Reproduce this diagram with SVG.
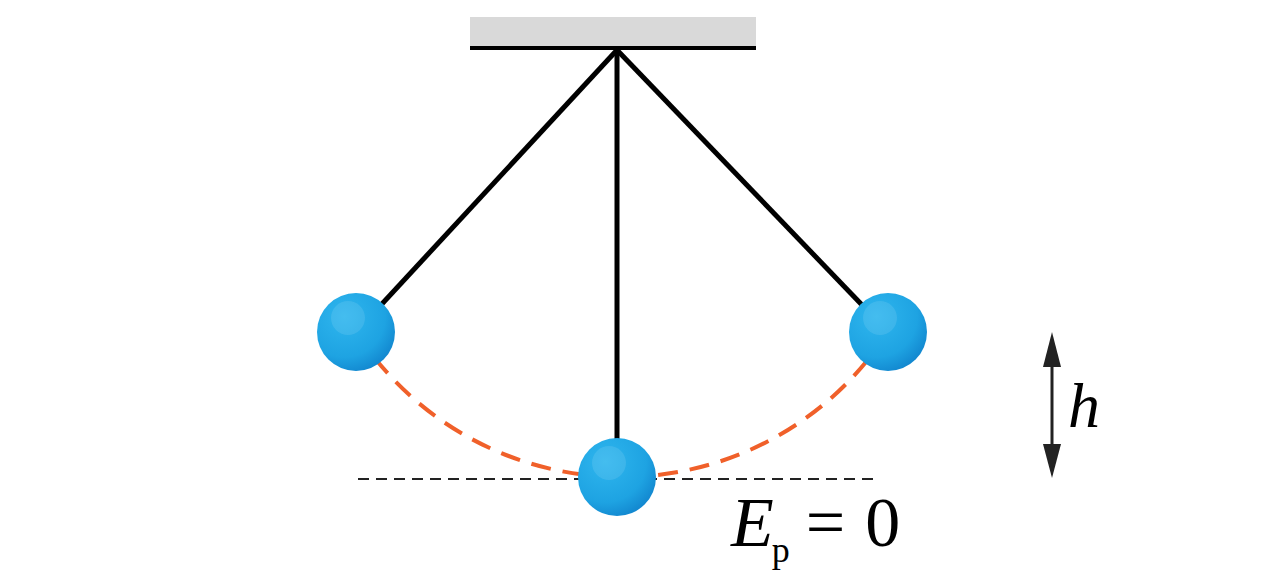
<svg xmlns="http://www.w3.org/2000/svg" width="1280" height="579" viewBox="0 0 1280 579">
<defs>
<radialGradient id="ball" cx="0.35" cy="0.3" r="0.75">
<stop offset="0" stop-color="#2fb6ee"/><stop offset="0.7" stop-color="#1ea3e2"/><stop offset="1" stop-color="#1287cf"/>
</radialGradient>
<style>.rod{stroke:#000;stroke-width:5}.tx{font-family:"Liberation Serif",serif;fill:#000}</style>
</defs>
<rect width="1280" height="579" fill="#fff"/>
<g id="ceiling"><rect x="470" y="17" width="286" height="30" fill="#d9d9d9"/><line x1="470" y1="48" x2="756" y2="48" stroke="#000" stroke-width="4"/></g>
<g id="connectors">
<line class="rod" x1="617" y1="50" x2="356" y2="332"/>
<line class="rod" x1="617" y1="50" x2="617" y2="477"/>
<line class="rod" x1="617" y1="50" x2="888" y2="332"/>
<path d="M356 332 A316.5 316.5 0 0 0 888 332" fill="none" stroke="#f0602a" stroke-width="4" stroke-dasharray="20 12"/>
<line x1="358" y1="479" x2="877" y2="479" stroke="#222" stroke-width="2" stroke-dasharray="11 7"/>
<line x1="1052" y1="360" x2="1052" y2="450" stroke="#222" stroke-width="3"/>
<polygon points="1052,332 1043,367 1061,367" fill="#222"/>
<polygon points="1052,478 1043,444 1061,444" fill="#222"/>
</g>
<g id="ball-left"><circle cx="356" cy="332" r="39" fill="url(#ball)"/><circle cx="348" cy="318" r="17" fill="#fff" opacity="0.1"/></g>
<g id="ball-center"><circle cx="617" cy="477" r="39" fill="url(#ball)"/><circle cx="609" cy="463" r="17" fill="#fff" opacity="0.1"/></g>
<g id="ball-right"><circle cx="888" cy="332" r="39" fill="url(#ball)"/><circle cx="880" cy="318" r="17" fill="#fff" opacity="0.1"/></g>
<text class="tx" x="1068" y="427" font-size="64" font-style="italic">h</text>
<text class="tx" x="731" y="546" font-size="70"><tspan font-style="italic">E</tspan><tspan font-size="36" dy="16" dx="-2">p</tspan><tspan dy="-16" dx="16">=</tspan><tspan dx="20">0</tspan></text>
</svg>
